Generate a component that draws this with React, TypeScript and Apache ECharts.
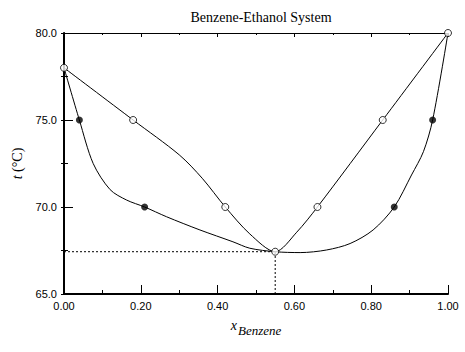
import React, { useEffect, useRef } from "react";
import * as echarts from "echarts";

// Measured data points (x_benzene, t °C)
const liquidPoints: [number, number][] = [
  [0.0, 78.0], [0.04, 75.0], [0.21, 70.0], [0.55, 67.43], [0.86, 70.0], [0.96, 75.0], [1.0, 80.0],
];
const vaporPoints: [number, number][] = [
  [0.0, 78.0], [0.18, 75.0], [0.42, 70.0], [0.55, 67.43], [0.66, 70.0], [0.83, 75.0], [1.0, 80.0],
];
// Curve traces (bubble and dew lines)
const liquidCurve: [number, number][] = [
  [0.0, 78.0], [0.04, 75.0], [0.076, 72.5], [0.12, 71.0], [0.163, 70.4], [0.21, 70.0], [0.267, 69.44],
  [0.354, 68.68], [0.44, 68.0], [0.484, 67.63], [0.55, 67.43], [0.615, 67.38], [0.684, 67.53],
  [0.745, 67.9], [0.805, 68.68], [0.86, 70.0], [0.905, 71.84], [0.936, 73.18], [0.96, 75.0], [1.0, 80.0],
];
const vaporCurve: [number, number][] = [
  [0.0, 78.0], [0.18, 75.0], [0.3, 73.0], [0.36, 71.65], [0.42, 70.0], [0.484, 68.45], [0.55, 67.43],
  [0.606, 68.55], [0.66, 70.0], [0.83, 75.0], [1.0, 80.0],
];
const azeotrope: [number, number] = [0.55, 67.43];
const xTicks = [0, 0.2, 0.4, 0.6, 0.8, 1.0];
const yTicks = [65, 70, 75, 80];

export default function App() {
  const ref = useRef<HTMLDivElement>(null);
  useEffect(() => {
    if (!ref.current) return;
    const chart = echarts.init(ref.current, null, { renderer: "svg" });
    const labelFont = { fontFamily: "Liberation Sans", fontSize: 11, color: "#000" };
    chart.setOption({
      animation: false,
      backgroundColor: "#fff",
      title: {
        text: "Benzene-Ethanol System",
        left: 256,
        textAlign: "center",
        top: 5,
        textStyle: { fontFamily: "Liberation Serif", fontSize: 14, fontWeight: "normal", color: "#000" },
      },
      grid: { left: 64, right: 17, top: 33, bottom: 58 },
      xAxis: [
        {
          type: "value", min: xTicks[0], max: xTicks[xTicks.length - 1], interval: 0.2,
          position: "bottom",
          axisLine: { lineStyle: { color: "#000", width: 2 } },
          axisTick: { inside: true, length: 9, lineStyle: { color: "#000" } },
          minorTick: { show: true, splitNumber: 2, length: 4, lineStyle: { color: "#000" } },
          splitLine: { show: false },
          axisLabel: { ...labelFont, margin: 6, formatter: (v: number) => v.toFixed(2) },
          name: "{x|x}{s|Benzene}",
          nameLocation: "middle",
          nameGap: 24,
          nameTextStyle: {
            rich: {
              x: { fontFamily: "Liberation Serif", fontStyle: "italic", fontSize: 14, color: "#000", verticalAlign: "bottom", padding: [0, 1, 5, 0] },
              s: { fontFamily: "Liberation Serif", fontStyle: "italic", fontSize: 13, color: "#000", verticalAlign: "bottom" },
            },
          },
        },
        {
          type: "value", min: 0, max: 1, interval: 0.2, position: "top",
          axisLine: { lineStyle: { color: "#000", width: 1 } },
          axisTick: { inside: true, length: 4, lineStyle: { color: "#000" } },
          minorTick: { show: true, splitNumber: 2, length: 2, lineStyle: { color: "#000" } },
          splitLine: { show: false },
          axisLabel: { show: false },
        },
      ],
      yAxis: [
        {
          type: "value", min: yTicks[0], max: yTicks[yTicks.length - 1], interval: 5,
          position: "left",
          axisLine: { show: true, lineStyle: { color: "#000", width: 1 } },
          axisTick: { show: true, inside: true, length: 9, lineStyle: { color: "#000" } },
          minorTick: { show: true, splitNumber: 2, length: 4, lineStyle: { color: "#000" } },
          splitLine: { show: false },
          axisLabel: { ...labelFont, margin: 7, formatter: (v: number) => v.toFixed(1) },
          name: "{t|t} (°C)",
          nameLocation: "middle",
          nameRotate: 90,
          nameGap: 40,
          nameTextStyle: {
            fontFamily: "Liberation Serif", fontSize: 14, color: "#000",
            rich: {
              t: { fontFamily: "Liberation Serif", fontStyle: "italic", fontSize: 14, color: "#000" },
            },
          },
        },
        {
          type: "value", min: 65, max: 80, interval: 5, position: "right",
          axisLine: { show: true, lineStyle: { color: "#000", width: 2 } },
          axisTick: { show: true, inside: true, length: 3, lineStyle: { color: "#000" } },
          minorTick: { show: true, splitNumber: 2, length: 3, lineStyle: { color: "#000" } },
          splitLine: { show: false },
          axisLabel: { show: false },
        },
      ],
      series: [
        {
          type: "line", data: [[0, azeotrope[1]], azeotrope], symbol: "none",
          lineStyle: { color: "#000", width: 1, type: [2, 2] }, z: 1,
        },
        {
          type: "line", data: [[azeotrope[0], 65], azeotrope], symbol: "none",
          lineStyle: { color: "#000", width: 1, type: [2, 2] }, z: 1,
        },
        {
          type: "line", data: liquidCurve, smooth: 0.3, symbol: "none",
          lineStyle: { color: "#000", width: 1 }, z: 2,
        },
        {
          type: "line", data: vaporCurve, smooth: 0.3, symbol: "none",
          lineStyle: { color: "#000", width: 1 }, z: 2,
        },
        {
          type: "scatter", data: liquidPoints.filter((p) => p[1] < 77 && p[0] !== azeotrope[0]), symbol: "circle", symbolSize: 7,
          itemStyle: { color: "#000" }, z: 3,
        },
        {
          type: "scatter", data: vaporPoints, symbol: "circle", symbolSize: 7,
          itemStyle: { color: "#fff", borderColor: "#000", borderWidth: 1 }, z: 3,
        },
      ],
    });
    return () => chart.dispose();
  }, []);
  return <div ref={ref} style={{ width: 465, height: 352, position: "absolute", left: 0, top: 0 }} />;
}
